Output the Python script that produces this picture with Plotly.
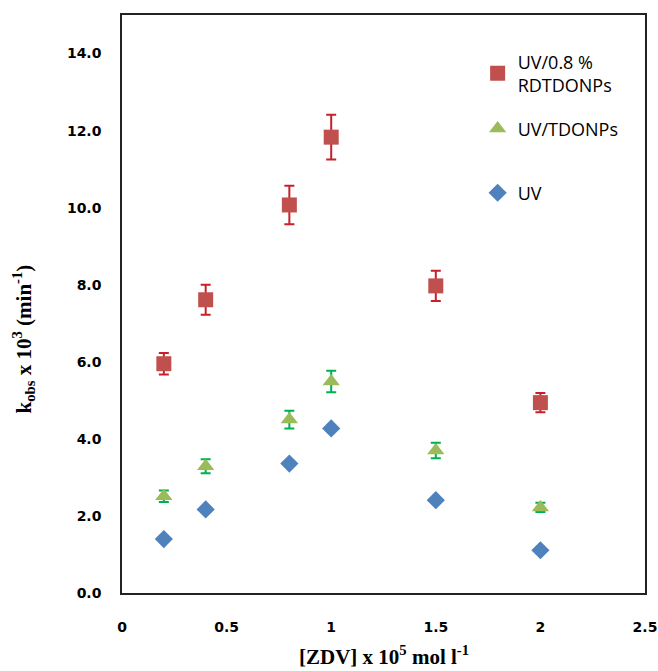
import plotly.graph_objects as go

x_vals = [0.2, 0.4, 0.8, 1.0, 1.5, 2.0]
red_y = [5.95, 7.61, 10.07, 11.83, 7.97, 4.94]
red_err = [0.28, 0.39, 0.50, 0.58, 0.39, 0.25]
green_y = [2.51, 3.29, 4.50, 5.49, 3.70, 2.22]
green_err = [0.15, 0.18, 0.23, 0.28, 0.20, 0.12]
blue_y = [1.40, 2.17, 3.36, 4.27, 2.41, 1.11]

names = ["UV/0.8 %<br>RDTDONPs", "UV/TDONPs", "UV"]
x_ticks = [0, 0.5, 1, 1.5, 2, 2.5]
x_tick_text = ["0", "0.5", "1", "1.5", "2", "2.5"]
y_ticks = [0, 2, 4, 6, 8, 10, 12, 14]
y_tick_text = ["0.0", "2.0", "4.0", "6.0", "8.0", "10.0", "12.0", "14.0"]
x_title = "[ZDV] x 10<sup>5</sup> mol l<sup>-1</sup>"
y_title = "k<sub>obs</sub> x 10<sup>3</sup> (min<sup>-1</sup>)"

fig = go.Figure()
fig.add_trace(go.Scatter(
    x=x_vals, y=red_y, mode="markers", name=names[0], legend="legend", showlegend=True,
    marker=dict(symbol="square", size=15, color="#C0504D"),
    error_y=dict(type="data", array=red_err, visible=True, color="#C8202A", thickness=2, width=5),
))
fig.add_trace(go.Scatter(
    x=x_vals, y=green_y, mode="markers", name=names[1], legend="legend2", showlegend=True,
    marker=dict(symbol="triangle-up", size=15, color="#9BBB59"),
    error_y=dict(type="data", array=green_err, visible=True, color="#00B050", thickness=2, width=5),
))
fig.add_trace(go.Scatter(
    x=x_vals, y=blue_y, mode="markers", name=names[2], legend="legend3", showlegend=True,
    marker=dict(symbol="diamond", size=14, color="#4F81BD"),
))

leg_common = dict(font=dict(family="Open Sans", size=18, color="#000"),
                  bgcolor="rgba(0,0,0,0)", xanchor="left", yanchor="top",
                  itemwidth=30)
title_font = dict(family="Liberation Serif", size=21, color="#000", weight="bold")
fig.update_layout(
    width=658, height=671,
    showlegend=True,
    margin=dict(l=122, r=13, t=15, b=78),
    plot_bgcolor="white", paper_bgcolor="white",
    legend=dict(x=0.68, y=0.951, **leg_common),
    legend2=dict(x=0.68, y=0.835, **leg_common),
    legend3=dict(x=0.68, y=0.724, **leg_common),
    xaxis=dict(range=[0, 2.5], tickvals=x_ticks, ticktext=x_tick_text,
               showgrid=False, zeroline=False, showline=True, mirror=True,
               linecolor="#222", linewidth=1.5, ticks="", automargin=False,
               tickfont=dict(family="DejaVu Sans", size=14, color="#000", weight="bold"),
               ticklabelstandoff=20),
    yaxis=dict(range=[0, 15], tickvals=y_ticks, ticktext=y_tick_text,
               showgrid=False, zeroline=False, showline=True, mirror=True,
               linecolor="#222", linewidth=1.5, ticks="", automargin=False,
               tickfont=dict(family="DejaVu Sans", size=14, color="#000", weight="bold"),
               ticklabelstandoff=16),
    annotations=[
        dict(text=x_title, xref="paper", yref="paper", x=0.5, y=-0.108,
             xanchor="center", yanchor="middle", showarrow=False, font=title_font),
        dict(text=y_title, xref="paper", yref="paper", x=-0.189, y=0.439,
             xanchor="center", yanchor="middle", textangle=-90, showarrow=False, font=title_font),
    ],
)

fig.write_html("out.html", post_script="document.body.style.margin='0';",
               config={"displayModeBar": False})
